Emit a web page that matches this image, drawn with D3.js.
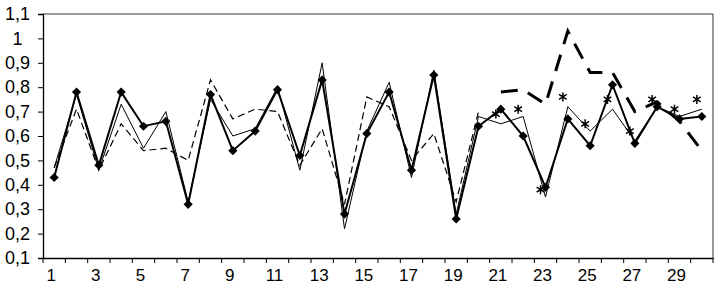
<!DOCTYPE html>
<html>
<head>
<meta charset="utf-8">
<script src="https://cdn.jsdelivr.net/npm/d3@7"></script>
<style>
  html, body { margin: 0; padding: 0; background: #fff; }
  svg { display: block; }
  text { font-family: "Liberation Sans", Arial, sans-serif; }
</style>
</head>
<body>
<svg id="chart" width="715" height="286"></svg>
<script>
// ---- data ----
const categories = [1,2,3,4,5,6,7,8,9,10,11,12,13,14,15,16,17,18,19,20,21,22,23,24,25,26,27,28,29,30];
const xTickLabels = [1,3,5,7,9,11,13,15,17,19,21,23,25,27,29];
const yTicks = [0.1,0.2,0.3,0.4,0.5,0.6,0.7,0.8,0.9,1,1.1];

// diamond-marker series (thick solid), 1..30
const seriesDiamond = [0.43,0.78,0.48,0.78,0.64,0.66,0.32,0.77,0.54,0.62,0.79,0.52,0.83,0.28,0.61,0.78,0.46,0.85,0.26,0.64,0.71,0.60,0.39,0.67,0.56,0.81,0.57,0.72,0.67,0.68];
// thin solid series, 1..30
const seriesThin = [0.47,0.77,0.46,0.73,0.55,0.70,0.33,0.75,0.60,0.63,0.80,0.46,0.90,0.22,0.62,0.82,0.43,0.87,0.28,0.68,0.65,0.68,0.35,0.72,0.62,0.71,0.58,0.72,0.68,0.71];
// thin dashed series, 1..20
const thinDashedCats = [1,2,3,4,5,6,7,8,9,10,11,12,13,14,15,16,17,18,19,20];
const seriesThinDashed = [0.47,0.71,0.46,0.65,0.54,0.55,0.50,0.83,0.67,0.71,0.70,0.48,0.63,0.32,0.76,0.72,0.50,0.61,0.33,0.70];
// thick dashed series, 21..30
const lateCats = [21,22,23,24,25,26,27,28,29,30];
const seriesThickDashed = [0.78,0.79,0.73,1.03,0.86,0.86,0.70,0.74,0.66,0.54];
// asterisk markers, 21..30
const seriesAsterisk = [0.69,0.71,0.38,0.76,0.65,0.75,0.62,0.75,0.71,0.75];

// ---- layout ----
const svg = d3.select("#chart");
const mLeft = 43, mRight = 713, mTop = 14, mBottom = 258;

const x = d3.scaleBand().domain(categories).range([mLeft, mRight]).padding(0);
const cx = c => x(c) + x.bandwidth() / 2;
const y = d3.scaleLinear().domain([0.1, 1.1]).range([mBottom, mTop]);

const fmt = d => d3.format("~g")(d).replace(".", ",");

// plot border (top & right)
svg.append("path")
  .attr("d", `M${mLeft},${mTop}H${mRight}V${mBottom}`)
  .attr("fill", "none").attr("stroke", "#333").attr("stroke-width", 1);

// y axis
const gy = svg.append("g").attr("transform", `translate(${mLeft},0)`)
  .call(d3.axisLeft(y).tickValues(yTicks).tickSize(5).tickFormat(fmt));
gy.select(".domain").attr("stroke", "#000").attr("stroke-width", 1.3);
gy.selectAll(".tick line").attr("stroke", "#000");
gy.selectAll("text")
  .attr("x", 17.5 - mLeft).attr("text-anchor", "middle")
  .attr("font-size", 18).attr("fill", "#000");

// x axis
const gx = svg.append("g").attr("transform", `translate(0,${mBottom})`)
  .call(d3.axisBottom(x).tickValues(xTickLabels).tickSize(0).tickPadding(11));
gx.select(".domain").attr("stroke", "#000").attr("stroke-width", 1.6);
gx.selectAll("text").attr("font-size", 17).attr("fill", "#000").attr("dx", -3);

// boundary ticks
const bounds = categories.map(c => x(c)).concat([x(categories[categories.length - 1]) + x.bandwidth()]);
svg.append("g").selectAll("line").data(bounds).join("line")
  .attr("x1", d => d).attr("x2", d => d)
  .attr("y1", mBottom).attr("y2", mBottom + 5)
  .attr("stroke", "#000").attr("stroke-width", 1);

// lines
const line = (cats) => d3.line().x((d, i) => cx(cats[i])).y(d => y(d));

svg.append("path").datum(seriesThinDashed)
  .attr("d", line(thinDashedCats))
  .attr("fill", "none").attr("stroke", "#000").attr("stroke-width", 1.2)
  .attr("stroke-dasharray", "7,4");

svg.append("path").datum(seriesThin)
  .attr("d", line(categories))
  .attr("fill", "none").attr("stroke", "#000").attr("stroke-width", 1);

svg.append("path").datum(seriesThickDashed)
  .attr("d", line(lateCats))
  .attr("fill", "none").attr("stroke", "#000").attr("stroke-width", 3)
  .attr("stroke-dasharray", "17,11");

svg.append("path").datum(seriesDiamond)
  .attr("d", line(categories))
  .attr("fill", "none").attr("stroke", "#000").attr("stroke-width", 2);

// diamond markers
const sq = d3.symbol().type(d3.symbolSquare).size(42);
svg.append("g").selectAll("path").data(seriesDiamond).join("path")
  .attr("d", sq)
  .attr("transform", (d, i) => `translate(${cx(categories[i])},${y(d)}) rotate(45)`)
  .attr("fill", "#000");

// asterisk markers
const r = 4.5;
const ast = `M0,${-r}V${r}M${-r*0.85},${-r*0.55}L${r*0.85},${r*0.55}M${-r*0.85},${r*0.55}L${r*0.85},${-r*0.55}`;
svg.append("g").selectAll("path").data(seriesAsterisk).join("path")
  .attr("d", ast)
  .attr("transform", (d, i) => `translate(${cx(lateCats[i]) - 5},${y(d)})`)
  .attr("fill", "none").attr("stroke", "#000").attr("stroke-width", 1.5);
</script>
</body>
</html>
